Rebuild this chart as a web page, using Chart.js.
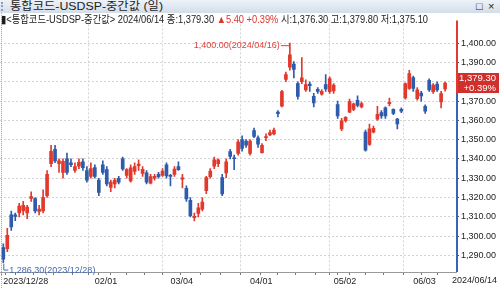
<!DOCTYPE html>
<html>
<head>
<meta charset="utf-8">
<script src="https://cdn.jsdelivr.net/npm/chart.js@4.4.1/dist/chart.umd.min.js"></script>
<style>
html, body { margin: 0; padding: 0; background: #fff; }
#wrap { position: relative; width: 500px; height: 288px; overflow: hidden; background: #fff; }
#titlebar { position: absolute; left: 0; top: 0; width: 500px; height: 13px; background: linear-gradient(#eef3f9, #d3dde9); }
.t { position: absolute; white-space: nowrap; font-family: "Liberation Sans", "Noto Sans CJK KR", sans-serif; font-size: 11px; color: #1c1c1c; transform-origin: 0 0; }
#titlebar .t { top: 0; line-height: 13px; }
#grip { position: absolute; left: 1px; top: 2px; width: 2px; height: 9px; border-left: 2px dotted #8aa0ba; }
#info { position: absolute; left: 0; top: 13px; width: 455px; height: 12px; z-index: 2; }
#info .t { top: 0; line-height: 12px; font-size: 10.5px; }
.up { color: #e0332b; }
#chart { position: absolute; left: 0; top: 13px; }
</style>
</head>
<body>
<div id="wrap">
  <div id="titlebar">
    <div id="grip"></div>
    <span class="t" id="title" style="left:10px">통합코드-USDSP-중간값 (일)</span>
    <span class="t" style="left:476px">□</span>
    <span class="t" style="left:488px">×</span>
  </div>
  <canvas id="chart" width="500" height="275"></canvas>
  <div id="info">
    <span class="t" id="infoline" style="left:1px">▮&lt;통합코드-USDSP-중간값&gt; 2024/06/14 종:1,379.30 <span class="up">▲5.40 +0.39%</span> 시:1,376.30 고:1,379.80 저:1,375.10</span>
  </div>
</div>
<script>
// trading days shown on the chart
const dates = [
  '2023/12/28',
  '2024/01/02','2024/01/03','2024/01/04','2024/01/05','2024/01/08','2024/01/09','2024/01/10','2024/01/11','2024/01/12',
  '2024/01/15','2024/01/16','2024/01/17','2024/01/18','2024/01/19','2024/01/22','2024/01/23','2024/01/24','2024/01/25',
  '2024/01/26','2024/01/29','2024/01/30','2024/01/31',
  '2024/02/01','2024/02/02','2024/02/05','2024/02/06','2024/02/07','2024/02/08','2024/02/13','2024/02/14','2024/02/15',
  '2024/02/16','2024/02/19','2024/02/20','2024/02/21','2024/02/22','2024/02/23','2024/02/26','2024/02/27','2024/02/28','2024/02/29',
  '2024/03/04','2024/03/05','2024/03/06','2024/03/07','2024/03/08','2024/03/11','2024/03/12','2024/03/13','2024/03/14','2024/03/15',
  '2024/03/18','2024/03/19','2024/03/20','2024/03/21','2024/03/22','2024/03/25','2024/03/26','2024/03/27','2024/03/28','2024/03/29',
  '2024/04/01','2024/04/02','2024/04/03','2024/04/04','2024/04/05','2024/04/08','2024/04/09','2024/04/11','2024/04/12',
  '2024/04/15','2024/04/16','2024/04/17','2024/04/18','2024/04/19','2024/04/22','2024/04/23','2024/04/24','2024/04/25','2024/04/26',
  '2024/04/29','2024/04/30',
  '2024/05/02','2024/05/03','2024/05/07','2024/05/08','2024/05/09','2024/05/10','2024/05/13','2024/05/14','2024/05/16','2024/05/17',
  '2024/05/20','2024/05/21','2024/05/22','2024/05/23','2024/05/24','2024/05/27','2024/05/28','2024/05/29','2024/05/30','2024/05/31',
  '2024/06/03','2024/06/04','2024/06/05','2024/06/07','2024/06/10','2024/06/11','2024/06/12','2024/06/13','2024/06/14'
];

const opens = [
  1294, 1293.5, 1311, 1311, 1312, 1313, 1312, 1319.5, 1319.5, 1312.8,
  1313, 1321, 1337.5, 1345, 1337.5, 1333, 1340, 1338, 1334, 1336.2,
  1338.5, 1334, 1331, 1335.5, 1329, 1337, 1334.5, 1325.2, 1327, 1330,
  1340, 1331.5, 1328.6, 1333.5, 1336.5, 1332.5, 1332.8, 1327.4, 1330, 1332,
  1331.5, 1337, 1331.5, 1332, 1336, 1329.5, 1324.7, 1318.5, 1309.5, 1311.8,
  1314, 1323.6, 1330.8, 1336.2, 1337.5, 1330.3, 1332.8, 1343.8, 1340.6, 1342.9,
  1350, 1349.3, 1342.9, 1354.7, 1351, 1343.3, 1351, 1352.4, 1353, 1364.3,
  1367.3, 1381.2, 1387.5, 1389.2, 1379, 1380, 1375.8, 1378.8, 1372.4, 1376.1,
  1373.6, 1378.6, 1374.9, 1375.3, 1368.2, 1355.6, 1359.8, 1364.3, 1365.7, 1370.4,
  1367, 1353.9, 1347.5, 1353.9, 1360.6, 1364, 1366.5, 1368.7, 1365.7, 1360.6,
  1365.7, 1371.6, 1376.6, 1382.2, 1371.2, 1374.1, 1367.3, 1380.8, 1374.9, 1378.8,
  1369.5, 1376.3
];
const highs = [
  1296, 1304, 1313, 1312, 1317, 1318, 1316, 1323, 1320, 1316,
  1324, 1334, 1347, 1347, 1340, 1340, 1343, 1340, 1338, 1340,
  1340, 1336, 1338, 1337, 1330, 1339, 1336, 1329, 1330, 1331,
  1341, 1335, 1337, 1338, 1339.5, 1336, 1334, 1332, 1332, 1333,
  1335, 1338, 1332, 1336, 1338.5, 1332, 1326, 1320, 1312, 1317,
  1320, 1331, 1335, 1341, 1340, 1332, 1340, 1345, 1342, 1350,
  1352, 1350, 1350, 1356, 1352, 1348, 1353, 1355, 1356, 1365,
  1375.5, 1385, 1400, 1390.5, 1380, 1392.5, 1381, 1380, 1374, 1377,
  1376, 1383.7, 1382.5, 1379, 1370, 1361, 1362, 1371, 1369, 1372.7,
  1369.5, 1355, 1358, 1357, 1367.3, 1365, 1367, 1371.6, 1366, 1361,
  1366.5, 1379.5, 1385.9, 1383, 1377, 1375, 1368, 1381.5, 1379, 1380,
  1375, 1379.8
];
const lows = [
  1286.3, 1292, 1303, 1308, 1310, 1311, 1309, 1318, 1312, 1311,
  1312, 1320, 1336, 1338, 1333, 1330, 1332, 1336, 1333, 1335,
  1334, 1328, 1330, 1330, 1321, 1332, 1326, 1323, 1325, 1327,
  1334, 1330, 1328, 1332, 1334, 1331, 1327, 1327, 1329, 1330,
  1331, 1330, 1326, 1331, 1334, 1325, 1318, 1310, 1307.9, 1310,
  1313, 1322, 1330, 1335, 1336, 1321, 1330.3, 1340, 1334.5, 1342,
  1344, 1346, 1342, 1351, 1346, 1343, 1349.5, 1352, 1352.5, 1361.8,
  1367, 1380, 1386, 1382, 1371, 1379, 1375, 1375, 1367, 1374,
  1373, 1375, 1374, 1374, 1361, 1354.7, 1359, 1364, 1365, 1367,
  1366.5, 1344, 1347, 1353.5, 1360, 1361, 1361, 1367.5, 1363, 1355.6,
  1364, 1371, 1376, 1375, 1370.5, 1369.9, 1363.6, 1375, 1374, 1375,
  1366.5, 1375.1
];
const closes = [
  1288, 1300.4, 1304.8, 1310.2, 1315.6, 1316, 1315, 1320.5, 1313, 1314,
  1320, 1332, 1344, 1339, 1339, 1338.7, 1333, 1337, 1336, 1338.2,
  1335.5, 1329, 1335, 1331, 1322.7, 1333, 1327, 1328, 1329, 1328,
  1334.8, 1334.5, 1335.4, 1336, 1337.3, 1334.6, 1328, 1330.8, 1331, 1330.8,
  1333.7, 1331.2, 1331, 1334.8, 1334.5, 1330.2, 1319.3, 1310.6, 1310.3, 1314.6,
  1317.7, 1330.3, 1333.7, 1339.5, 1339.5, 1321.9, 1338.5, 1341.3, 1340.2, 1348.8,
  1345.5, 1347.1, 1349.3, 1351.7, 1347.6, 1347.1, 1351.6, 1353.7, 1355, 1363.5,
  1374.9, 1383.7, 1394, 1386.4, 1372.4, 1382, 1378.6, 1378, 1369, 1375,
  1375, 1376.3, 1381.7, 1378.3, 1362.3, 1359.8, 1361.5, 1369.9, 1368.5, 1367.7,
  1368.7, 1344.6, 1355.6, 1355.9, 1363.1, 1362.3, 1362.3, 1369.4, 1363.6, 1358.1,
  1364.8, 1379.1, 1384.2, 1376.6, 1375.8, 1372.7, 1364.8, 1375.8, 1378.3, 1375.8,
  1373.9, 1379.3
];

// axis ticks
const yTicks = [1290, 1300, 1310, 1320, 1330, 1340, 1350, 1360, 1370, 1380, 1390, 1400];
const weekTicks = [0, 1, 5, 10, 15, 20, 23, 25, 29, 33, 38, 42, 47, 52, 57, 62, 67, 71, 76, 81, 83, 85, 89, 93, 98, 103, 107];
const monthLabels = { 0: '2023/12/28', 23: '02/01', 42: '03/04', 62: '04/01', 83: '05/02', 103: '06/03' };
const lastLabel = '2024/06/14';

const UP = '#e2392c';
const DOWN = '#2e5bab';
const GRID = '#d2d2d2';
const FONT = '"Liberation Sans", Arial, sans-serif';

// squeeze the header texts to the width they take in the original window
function fitWidth(id, w) {
  const el = document.getElementById(id);
  const natural = el.getBoundingClientRect().width;
  el.style.transform = 'scaleX(' + (w / natural) + ')';
}
fitWidth('title', 153);
fitWidth('infoline', 427);

const candleColors = closes.map((c, i) => c >= opens[i] ? UP : DOWN);
const fmt = v => v.toLocaleString('en-US', { minimumFractionDigits: 2, maximumFractionDigits: 2 });

const overlay = {
  id: 'overlay',
  afterDraw(chart) {
    const { ctx, chartArea, scales } = chart;
    const xs = scales.x, ys = scales.y;
    const last = closes.length - 1;
    const prev = closes[last - 1];
    const pct = (closes[last] - prev) / prev * 100;
    const yLast = ys.getPixelForValue(closes[last]);
    const boxTop = Math.round(yLast) - 10, boxBot = Math.round(yLast) + 10;

    ctx.save();
    // left frame
    ctx.strokeStyle = '#9fb4cc';
    ctx.setLineDash([1, 1]);
    ctx.beginPath(); ctx.moveTo(1.5, 0); ctx.lineTo(1.5, chart.height); ctx.stroke();
    ctx.setLineDash([]);

    // price axis line, red above the price box, blue below
    const ax = chartArea.right + 1;
    ctx.lineWidth = 2;
    ctx.strokeStyle = '#e03a30';
    ctx.beginPath(); ctx.moveTo(ax, chartArea.top); ctx.lineTo(ax, boxBot); ctx.stroke();
    ctx.strokeStyle = '#3b63b3';
    ctx.beginPath(); ctx.moveTo(ax, boxBot); ctx.lineTo(ax, chartArea.bottom); ctx.stroke();

    // current price box
    ctx.fillStyle = '#cf302b';
    ctx.fillRect(chartArea.right + 2, boxTop, 41, boxBot - boxTop);
    ctx.fillStyle = '#fff';
    ctx.font = '9.5px ' + FONT;
    ctx.textAlign = 'right';
    ctx.textBaseline = 'middle';
    ctx.fillText(fmt(closes[last]), 496, boxTop + 5.5);
    ctx.fillText('+' + pct.toFixed(2) + '%', 496, boxTop + 15);

    // high annotation
    let hi = 0;
    highs.forEach((h, i) => { if (h > highs[hi]) hi = i; });
    const hx = xs.getPixelForValue(hi), hy = ys.getPixelForValue(highs[hi]);
    ctx.fillStyle = '#d9433a';
    ctx.strokeStyle = '#d9433a';
    ctx.lineWidth = 1;
    ctx.font = '9px ' + FONT;
    ctx.textAlign = 'right';
    ctx.fillText(fmt(highs[hi]) + '(' + dates[hi] + ')', hx - 10, hy + 2.5);
    ctx.beginPath(); ctx.moveTo(hx - 9, hy + 2.5); ctx.lineTo(hx - 1, hy + 2.5); ctx.stroke();
    ctx.beginPath(); ctx.moveTo(hx - 0.5, hy); ctx.lineTo(hx - 0.5, hy + 4); ctx.stroke();

    // low annotation
    let lo = 0;
    lows.forEach((l, i) => { if (l < lows[lo]) lo = i; });
    const lx = xs.getPixelForValue(lo), ly = ys.getPixelForValue(lows[lo]);
    ctx.fillStyle = '#4468b4';
    ctx.strokeStyle = '#4468b4';
    ctx.textAlign = 'left';
    ctx.beginPath(); ctx.moveTo(lx + 0.5, ly + 1); ctx.lineTo(lx + 0.5, ly + 7.5); ctx.lineTo(lx + 5, ly + 7.5); ctx.stroke();
    ctx.fillText(fmt(lows[lo]) + '(' + dates[lo] + ')', lx + 6, ly + 7.5);

    // last date under the price axis
    ctx.fillStyle = '#222';
    ctx.font = '9px ' + FONT;
    ctx.textBaseline = 'middle';
    ctx.fillText(lastLabel, 452, chartArea.bottom + 8.5);
    ctx.restore();
  }
};

const ctx = document.getElementById('chart').getContext('2d');
new Chart(ctx, {
  type: 'bar',
  data: {
    datasets: [
      {
        label: 'body',
        data: opens.map((o, i) => ({ x: i, y: [o, closes[i]] })),
        backgroundColor: candleColors,
        barThickness: 3,
        grouped: false,
        borderWidth: 0,
        order: 1
      },
      {
        label: 'wick',
        data: lows.map((l, i) => ({ x: i, y: [l, highs[i]] })),
        backgroundColor: candleColors,
        barThickness: 1,
        grouped: false,
        borderWidth: 0,
        order: 2
      }
    ]
  },
  options: {
    responsive: false,
    animation: false,
    layout: { padding: { top: 1, left: 0, right: 0, bottom: 0 } },
    plugins: { legend: { display: false }, tooltip: { enabled: false } },
    scales: {
      x: {
        type: 'linear',
        min: -0.83,
        max: 113.74,
        offset: false,
        afterBuildTicks: (axis) => { axis.ticks = weekTicks.map(v => ({ value: v })); },
        afterFit: (axis) => { axis.height = 16; },
        ticks: {
          autoSkip: false,
          maxRotation: 0,
          align: 'start',
          padding: 1,
          color: '#222',
          font: { family: FONT, size: 9 },
          callback: (v) => monthLabels[v] || ''
        },
        grid: {
          color: (c) => (c.tick && monthLabels[c.tick.value] !== undefined) ? GRID : 'rgba(0,0,0,0)',
          tickColor: '#777',
          tickLength: 3
        },
        border: { display: true, color: '#9a9a9a', dash: [2, 2] }
      },
      y: {
        position: 'right',
        min: 1281.4,
        max: 1411.8,
        afterBuildTicks: (axis) => { axis.ticks = yTicks.map(v => ({ value: v })); },
        afterFit: (axis) => { axis.width = 44; },
        ticks: {
          padding: 2,
          color: '#222',
          font: { family: FONT, size: 9 },
          callback: (v) => fmt(v)
        },
        grid: { color: GRID, tickColor: '#555', tickLength: 3 },
        border: { display: false, dash: [2, 2] }
      }
    }
  },
  plugins: [overlay]
});
</script>
</body>
</html>
